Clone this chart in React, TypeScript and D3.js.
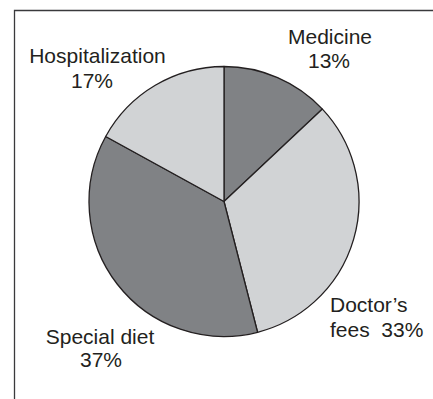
import React from "react";
import * as d3 from "d3";

// Share of medical expenses by category
const categories = ["Medicine", "Doctor\u2019s fees", "Special diet", "Hospitalization"];
const shares = [13, 33, 37, 17];
const fills = ["#808285", "#d1d3d5", "#808285", "#d1d3d5"];

// Label lines for each slice
const labelLines = [
  ["Medicine", "13%"],
  ["Doctor\u2019s", "fees  33%"],
  ["Special diet", "37%"],
  ["Hospitalization", "17%"],
];

const W = 433;
const H = 399;
const cx = 224;
const cy = 201.5;
const radius = 135;

// Label anchor placement around the pie
const labelPos: { x: number[]; y: number; anchor: string; dy: number }[] = [
  { x: [330, 329], y: 44, anchor: "middle", dy: 24 },
  { x: [330, 330], y: 312, anchor: "start", dy: 25 },
  { x: [100, 101], y: 344, anchor: "middle", dy: 23 },
  { x: [97.5, 92], y: 63, anchor: "middle", dy: 25 },
];

export default function App() {
  const pie = d3
    .pie<number>()
    .sort(null)
    .value((d) => d)
    .startAngle(0)
    .endAngle(2 * Math.PI);
  const arcs = pie(shares);
  const arc = d3.arc<d3.PieArcDatum<number>>().innerRadius(0).outerRadius(radius);

  return (
    <svg
      width={W}
      height={H}
      style={{ position: "absolute", left: 0, top: 0, background: "#fff" }}
      fontFamily="'Liberation Sans', Arial, Helvetica, sans-serif"
    >
      <path d={`M14.5,${H + 5} V10.5 H${W + 5}`} fill="none" stroke="#3a3a3c" strokeWidth={1.3} />
      <g transform={`translate(${cx},${cy})`}>
        {arcs.map((a, i) => (
          <path
            key={categories[i]}
            d={arc(a) || ""}
            fill={fills[i]}
            stroke="#231f20"
            strokeWidth={1.3}
            strokeLinejoin="round"
          />
        ))}
      </g>
      {labelLines.map((lines, i) => (
        <text
          key={categories[i]}
          fontSize={21}
          fill="#231f20"
          textAnchor={labelPos[i].anchor}
          style={{ whiteSpace: "pre" }}
        >
          {lines.map((t, j) => (
            <tspan key={j} x={labelPos[i].x[j]} y={labelPos[i].y + j * labelPos[i].dy}>
              {t}
            </tspan>
          ))}
        </text>
      ))}
    </svg>
  );
}
